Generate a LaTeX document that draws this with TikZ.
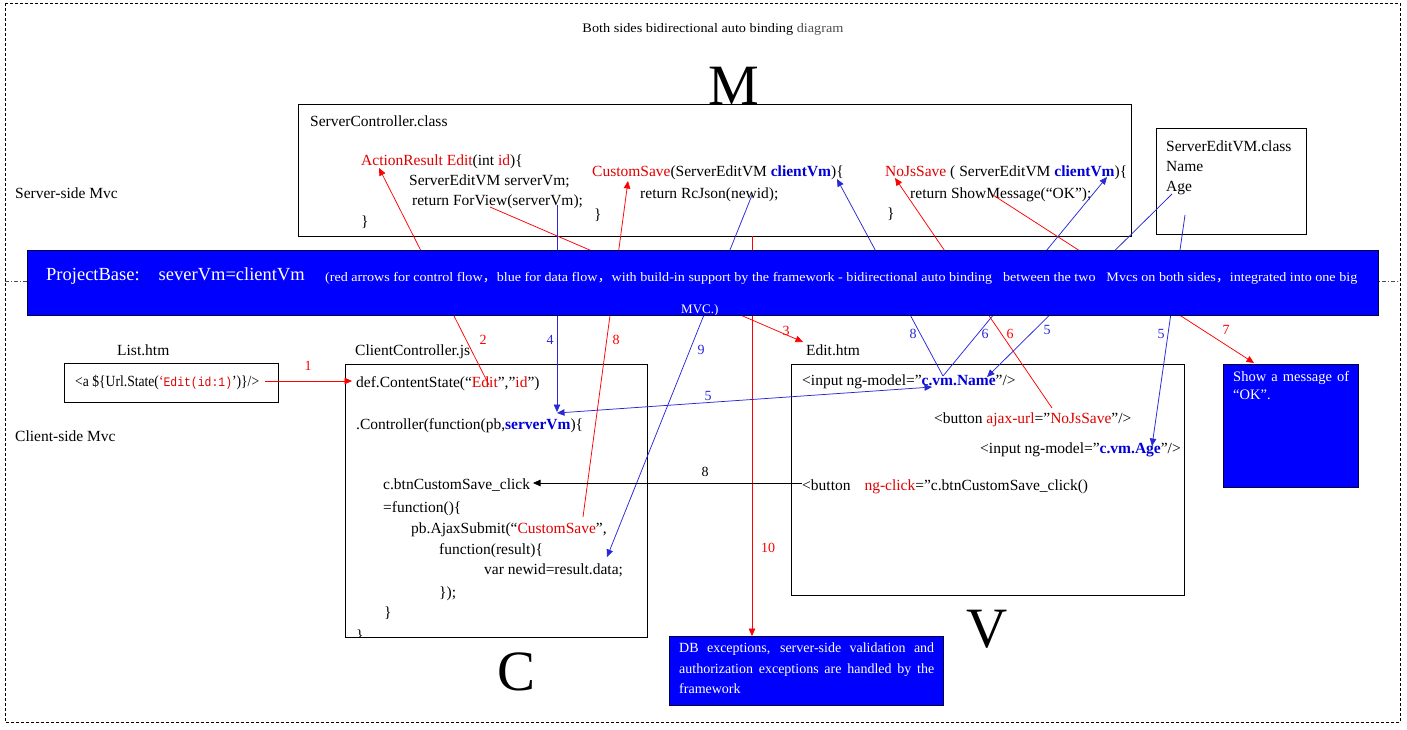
\documentclass[tikz,border=0pt]{standalone}
\usepackage{fontspec}
\usepackage{graphicx}
\setmainfont{Liberation Serif}
\newfontfamily\monof{Liberation Mono}
\newfontfamily\cjk{Noto Sans CJK SC}
\usetikzlibrary{arrows.meta}
\definecolor{cred}{RGB}{225,0,0}
\definecolor{cblue}{RGB}{0,0,215}
\definecolor{lred}{RGB}{255,0,0}
\definecolor{lblue}{RGB}{40,40,215}
\definecolor{bandblue}{RGB}{0,0,255}
\begin{document}
\begin{tikzpicture}[x=1pt,y=-1pt,
  code/.style={font=\fontsize{15.5}{18}\selectfont,anchor=base west,inner sep=0pt},
  lab/.style={font=\fontsize{14}{16}\selectfont,inner sep=0pt},
  box/.style={draw=black,line width=0.8pt,fill=white,inner sep=0pt,anchor=north west},
  bluebox/.style={draw=black!75!blue,line width=0.8pt,fill=bandblue,inner sep=0pt,anchor=north west},
  big/.style={font=\fontsize{57}{60}\selectfont,inner sep=0pt},
  redarr/.style={lred,line width=0.75pt,-{Triangle[length=7.5pt,width=6.5pt]}},
  bluearr/.style={lblue,line width=0.75pt,-{Triangle[length=7.5pt,width=6.5pt]}},
  bluebi/.style={lblue,line width=0.75pt,{Triangle[length=7.5pt,width=6.5pt]}-{Triangle[length=7.5pt,width=6.5pt]}},
  blackarr/.style={black,line width=0.75pt,-{Triangle[length=7.5pt,width=6.5pt]}}]
\useasboundingbox (0,0) rectangle (1407,729);
% outer frame
\draw[black,line width=0.6pt,dash pattern=on 3pt off 2pt] (5,3) rectangle (1400,722);
\draw[black!70,line width=0.5pt,dash pattern=on 4pt off 2pt on 1pt off 2pt] (5,281) -- (1400,281);
% title
\node[font=\fontsize{13}{15}\selectfont,inner sep=0pt] (title) at (713,29) {\resizebox{261pt}{\height}{Both sides bidirectional auto binding {\color{black!70}diagram}}};
% side labels
\node[code] (srv) at (15,198) {Server-side Mvc};
\node[code] (cli) at (15,441) {Client-side Mvc};
% boxes
\node[box,minimum width=833pt,minimum height=132pt] (scbox) at (298,104) {};
\node[box,minimum width=150pt,minimum height=106pt] (vmbox) at (1156,128) {};
\node[box,minimum width=214pt,minimum height=39pt] (listbox) at (64,363) {};
\node[box,minimum width=302pt,minimum height=273pt] (ccbox) at (345,364) {};
\node[box,minimum width=393pt,minimum height=231pt] (editbox) at (791,364) {};
% server controller text
\node[code] (t1) at (310,126) {ServerController.class};
\node[code] (t2) at (361,165) {{\color{cred}ActionResult Edit}(int {\color{cred}id})\{};
\node[code] (t3) at (409,185) {ServerEditVM serverVm;};
\node[code] (t4) at (412,205) {return ForView(serverVm);};
\node[code] (t5) at (361,226) {\}};
\node[code] (t6) at (592,176) {{\color{cred}CustomSave}(ServerEditVM {\color{cblue}\bfseries clientVm})\{};
\node[code] (t7) at (640,198) {return RcJson(newid);};
\node[code] (t8) at (594,219) {\}};
\node[code] (t9) at (885,176) {{\color{cred}NoJsSave} ( ServerEditVM {\color{cblue}\bfseries clientVm})\{};
\node[code] (t10) at (910,198) {return ShowMessage(“OK”);};
\node[code] (t11) at (887,218) {\}};
% server edit vm
\node[code] (v1) at (1166,151) {ServerEditVM.class};
\node[code] (v2) at (1166,171) {Name};
\node[code] (v3) at (1166,191) {Age};
% list
\node[code] (l0) at (117,355) {List.htm};
\node[code] (l1) at (75,386) {\resizebox{184pt}{\height}{<a \$\{Url.State({\color{cred}‘{\monof\fontsize{13}{16}\selectfont Edit(id:1)}}’)\}/>}};
% client controller
\node[code] (c0) at (355,355) {ClientController.js};
\node[code] (c1) at (356,387) {def.ContentState(“{\color{cred}Edit}”,”{\color{cred}id}”)};
\node[code] (c2) at (356,429) {.Controller(function(pb,{\color{cblue}\bfseries serverVm})\{};
\node[code] (c3) at (383,489) {c.btnCustomSave\_click};
\node[code] (c4) at (383,512) {=function()\{};
\node[code] (c5) at (411,533) {pb.AjaxSubmit(“{\color{cred}CustomSave}”,};
\node[code] (c6) at (439,554) {function(result)\{};
\node[code] (c7) at (484,574) {var newid=result.data;};
\node[code] (c8) at (439,597) {\});};
\node[code] (c9) at (384,617) {\}};
\begin{scope}
\clip (346,365) rectangle (646,636);
\node[code] (c10) at (356,640) {\}};
\end{scope}
% edit.htm
\node[code] (e0) at (806,355) {Edit.htm};
\node[code] (e1) at (802,385) {<input ng-model=”{\color{cblue}\bfseries c.vm.Name}”/>};
\node[code] (e2) at (934,423) {<button {\color{cred}ajax-url}=”{\color{cred}NoJsSave}”/>};
\node[code] (e3) at (980,453) {<input ng-model=”{\color{cblue}\bfseries c.vm.Age}”/>};
\node[code] (e4) at (802,490) {<button\hspace{14pt}{\color{cred}ng-click}=”c.btnCustomSave\_click()};
% connector end points
\coordinate (r1s) at (265,381); \coordinate (r1e) at (352,381);
\coordinate (r2s) at (489,385); \coordinate (r2e) at (379,168);
\coordinate (r3s) at (490,207); \coordinate (r3e) at (803,342);
\coordinate (r8s) at (583,517); \coordinate (r8e) at (628,181);
\coordinate (r10s) at (752,236); \coordinate (r10e) at (752,636);
\coordinate (r6s) at (1052,408); \coordinate (r6e) at (895,178);
\coordinate (r7s) at (993,195); \coordinate (r7e) at (1254,363);
\coordinate (b4s) at (557,205); \coordinate (b4e) at (557,412);
\coordinate (b9s) at (752,195); \coordinate (b9e) at (607,557);
\coordinate (nm) at (943,376); \coordinate (b8e) at (837,179); \coordinate (b6e) at (1107,177);
\coordinate (b5as) at (1172,194); \coordinate (b5ae) at (987,377);
\coordinate (b5bs) at (1185,215); \coordinate (b5be) at (1152,446);
\coordinate (b5cs) at (557,413); \coordinate (b5ce) at (932,387);
\coordinate (k8s) at (802,483); \coordinate (k8e) at (533,483);
% connectors
\draw[redarr] (r1s) -- (r1e);
\draw[redarr] (r2s) -- (r2e);
\draw[redarr] (r3s) -- (r3e);
\draw[redarr] (r8s) -- (r8e);
\draw[redarr] (r10s) -- (r10e);
\draw[redarr] (r6s) -- (r6e);
\draw[redarr] (r7s) -- (r7e);
\draw[bluearr] (b4s) -- (b4e);
\draw[bluearr] (b9s) -- (b9e);
\draw[bluearr] (nm) -- (b8e);
\draw[bluearr] (nm) -- (b6e);
\draw[bluearr] (b5as) -- (b5ae);
\draw[bluearr] (b5bs) -- (b5be);
\draw[bluebi] (b5cs) -- (b5ce);
\draw[blackarr] (k8s) -- (k8e);
% band
\node[bluebox,minimum width=1351pt,minimum height=65pt] (band) at (27,250) {};
\node[font=\fontsize{18.5}{20}\selectfont,text=white,anchor=west,inner sep=0pt] (pb) at (46,276) {ProjectBase:\hspace{19pt}severVm=clientVm};
\node[font=\fontsize{13}{15}\selectfont,text=white,anchor=west,inner sep=0pt] (pbnote) at (325,278) {\resizebox{1032pt}{\height}{(red arrows for control flow{\cjk ，}blue for data flow{\cjk ，}with build-in support by the framework - bidirectional auto binding\hspace{10pt}between the two\hspace{10pt}Mvcs on both sides{\cjk ，}integrated into one big}};
\begin{scope}
\clip (27,250) rectangle (1378,314.5);
\node[font=\fontsize{13}{15}\selectfont,text=white,anchor=west,inner sep=0pt] (mvc) at (681,310) {MVC.)};
\end{scope}
% blue info boxes
\node[bluebox,minimum width=135pt,minimum height=123pt] (okbox) at (1223,364) {};
\node[font=\fontsize{14.5}{18.5}\selectfont,text=white,text width=116pt,align=justify,anchor=north west,inner sep=0pt] (oktext) at (1233,371) {Show a message of\linebreak “OK”.};
\node[bluebox,minimum width=274pt,minimum height=69pt] (dbbox) at (669,636) {};
\node[font=\fontsize{14}{20.5}\selectfont,text=white,text width=255pt,align=justify,anchor=north west,inner sep=0pt] (dbtext) at (679,643) {DB exceptions, server-side validation and\linebreak authorization exceptions are handled by the\linebreak framework};
% labels
\node[lab,text=lred] (n1) at (308,366) {1};
\node[lab,text=lred] (n2) at (483,340) {2};
\node[lab,text=lblue] (n4) at (550,340) {4};
\node[lab,text=lred] (n8a) at (616,340) {8};
\node[lab,text=lblue] (n9) at (701,350) {9};
\node[lab,text=lred] (n3) at (786,331) {3};
\node[lab,text=lblue] (n8b) at (913,334) {8};
\node[lab,text=lblue] (n6a) at (985,334) {6};
\node[lab,text=lred] (n6b) at (1010,334) {6};
\node[lab,text=lblue] (n5a) at (1047,330) {5};
\node[lab,text=lblue] (n5b) at (1161,334) {5};
\node[lab,text=lred] (n7) at (1226,330) {7};
\node[lab,text=lblue] (n5c) at (708,396) {5};
\node[lab,text=black] (n8c) at (705,472) {8};
\node[lab,text=lred] (n10) at (768,548) {10};
% big letters
\node[big,anchor=base] (M) at (734,104) {M};
\node[big,anchor=base] (C) at (517,690) {C};
\node[big,anchor=base] (V) at (987,647) {V};
\end{tikzpicture}
\end{document}
